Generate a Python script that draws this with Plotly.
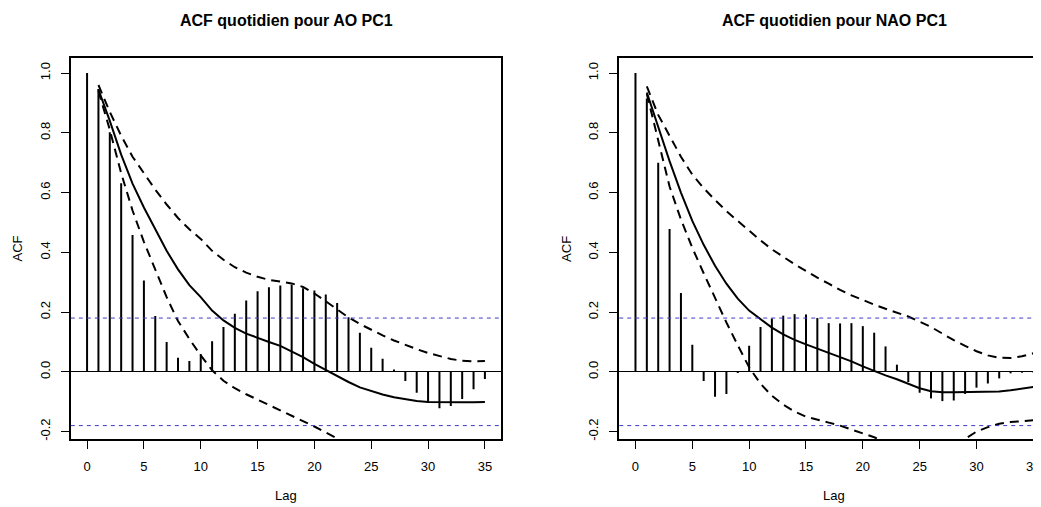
import plotly.graph_objects as go

# ---------------- data ----------------
lags = list(range(0, 36))
line_lags = list(range(1, 36))

acf_ao = [1.0, 0.947, 0.802, 0.631, 0.458, 0.306, 0.187, 0.100, 0.047, 0.036,
          0.060, 0.102, 0.150, 0.194, 0.239, 0.270, 0.283, 0.289, 0.292, 0.280,
          0.272, 0.259, 0.230, 0.183, 0.131, 0.081, 0.044, 0.008, -0.031, -0.070,
          -0.103, -0.122, -0.114, -0.091, -0.058, -0.024]
ao_mean = [0.945, 0.840, 0.727, 0.630, 0.550, 0.475, 0.405, 0.343, 0.290, 0.250,
           0.205, 0.172, 0.147, 0.128, 0.113, 0.100, 0.087, 0.069, 0.049, 0.027,
           0.006, -0.014, -0.034, -0.052, -0.065, -0.076, -0.085, -0.092, -0.098, -0.101,
           -0.102, -0.102, -0.102, -0.102, -0.101]
ao_upper = [0.960, 0.870, 0.790, 0.720, 0.665, 0.610, 0.560, 0.515, 0.477, 0.445,
            0.405, 0.375, 0.350, 0.332, 0.318, 0.308, 0.302, 0.296, 0.284, 0.262,
            0.236, 0.208, 0.182, 0.160, 0.140, 0.122, 0.105, 0.090, 0.076, 0.063,
            0.052, 0.043, 0.037, 0.035, 0.036]
ao_lower_lags = list(range(1, 25))
ao_lower = [0.940, 0.810, 0.665, 0.540, 0.435, 0.340, 0.250, 0.170, 0.110, 0.055,
            0.005, -0.030, -0.055, -0.075, -0.093, -0.110, -0.127, -0.146, -0.164, -0.183,
            -0.203, -0.222, -0.242, -0.262]

acf_nao = [1.0, 0.915, 0.700, 0.478, 0.264, 0.091, -0.031, -0.083, -0.074, -0.004,
           0.087, 0.150, 0.179, 0.188, 0.193, 0.192, 0.180, 0.163, 0.162, 0.163,
           0.153, 0.131, 0.085, 0.024, -0.034, -0.070, -0.089, -0.098, -0.096, -0.074,
           -0.053, -0.039, -0.022, -0.005, -0.003, -0.002]
nao_mean = [0.935, 0.820, 0.705, 0.600, 0.505, 0.425, 0.355, 0.295, 0.245, 0.205,
            0.175, 0.148, 0.125, 0.107, 0.092, 0.078, 0.064, 0.050, 0.035, 0.018,
            0.002, -0.012, -0.025, -0.040, -0.055, -0.065, -0.068, -0.068, -0.068, -0.067,
            -0.067, -0.066, -0.062, -0.057, -0.051]
nao_upper = [0.955, 0.860, 0.790, 0.720, 0.660, 0.615, 0.575, 0.538, 0.505, 0.472,
             0.440, 0.410, 0.385, 0.360, 0.338, 0.315, 0.295, 0.274, 0.256, 0.240,
             0.225, 0.211, 0.198, 0.185, 0.168, 0.150, 0.128, 0.106, 0.087, 0.069,
             0.055, 0.047, 0.046, 0.052, 0.062]
nao_lower = [0.930, 0.770, 0.620, 0.510, 0.415, 0.330, 0.245, 0.165, 0.089, 0.015,
             -0.040, -0.080, -0.110, -0.133, -0.150, -0.161, -0.170, -0.180, -0.193, -0.206,
             -0.219, -0.235, -0.250, -0.260, -0.265, -0.265, -0.258, -0.245, -0.224, -0.200,
             -0.185, -0.174, -0.168, -0.165, -0.162]

ci_bound = 0.18

titles = ["ACF quotidien pour AO PC1", "ACF quotidien pour NAO PC1"]
x_ticks = [0, 5, 10, 15, 20, 25, 30, 35]
y_ticks = [-0.2, 0.0, 0.2, 0.4, 0.6, 0.8, 1.0]
y_ticktext = ["-0.2", "0.0", "0.2", "0.4", "0.6", "0.8", "1.0"]

# ---------------- figure ----------------
WIN_W, WIN_H = 1041, 507
OFF = 8  # default body margin of the html page
W, H = WIN_W - OFF, WIN_H - OFF
FONT = "Liberation Sans, Arial, Helvetica, sans-serif"


def px_x(x):
    return (x - OFF) / W


def px_y(y):
    return 1 - (y - OFF) / H


fig = go.Figure()


def stems(xs, ys):
    sx, sy = [], []
    for x, y in zip(xs, ys):
        sx += [x, x, None]
        sy += [0, y, None]
    return sx, sy


panels = [
    dict(acf=acf_ao, mean=ao_mean, up=ao_upper, lo=ao_lower, lo_lags=ao_lower_lags, xa="x", ya="y"),
    dict(acf=acf_nao, mean=nao_mean, up=nao_upper, lo=nao_lower, lo_lags=line_lags, xa="x2", ya="y2"),
]

for p in panels:
    sx, sy = stems(lags, p["acf"])
    fig.add_trace(go.Scatter(x=sx, y=sy, mode="lines", line=dict(color="black", width=2),
                             xaxis=p["xa"], yaxis=p["ya"], hoverinfo="skip"))
    fig.add_trace(go.Scatter(x=line_lags, y=p["mean"], mode="lines", line=dict(color="black", width=2),
                             xaxis=p["xa"], yaxis=p["ya"], hoverinfo="skip"))
    fig.add_trace(go.Scatter(x=line_lags, y=p["up"], mode="lines",
                             line=dict(color="black", width=2, dash="9px,6px"),
                             xaxis=p["xa"], yaxis=p["ya"], hoverinfo="skip"))
    fig.add_trace(go.Scatter(x=p["lo_lags"], y=p["lo"], mode="lines",
                             line=dict(color="black", width=2, dash="9px,6px"),
                             xaxis=p["xa"], yaxis=p["ya"], hoverinfo="skip"))
    for b in (ci_bound, -ci_bound):
        fig.add_shape(type="line", xref=p["xa"] + " domain", yref=p["ya"],
                      x0=0, x1=1, y0=b, y1=b,
                      line=dict(color="rgb(60,60,200)", width=1, dash="4px,4px"))

# geometry (window pixels)
y_top, y_bot = 58.3, 440.7
dom_y = [px_y(y_bot), px_y(y_top)]
px_per_lag = 11.4
p1_left, p1_zero = 71.0, 87.3
p1_right = 502.7
p2_left, p2_zero = 621.0, 637.3
p_width = p1_right - p1_left

x1_range = [(p1_left - p1_zero) / px_per_lag, (p1_right - p1_zero) / px_per_lag]
x2_range = [(p2_left - p2_zero) / px_per_lag, (WIN_W - p2_zero) / px_per_lag]
y_range = [-0.2247, 1.05]

common_x = dict(tickvals=x_ticks, ticks="outside", ticklen=8, tickwidth=1, tickcolor="black",
                showline=True, linecolor="black", linewidth=2, mirror=True,
                showgrid=False, zeroline=False, tickfont=dict(size=13, color="black", family=FONT),
                ticklabelstandoff=6, ticklabeloverflow="allow")
common_y = dict(tickvals=y_ticks, ticktext=y_ticktext, ticks="outside", ticklen=8, tickwidth=1,
                tickcolor="black", showline=True, linecolor="black", linewidth=2,
                showgrid=False, zeroline=True, zerolinecolor="black", zerolinewidth=1,
                tickangle=-90, range=y_range, domain=dom_y,
                tickfont=dict(size=13, color="black", family=FONT), ticklabelstandoff=6)

fig.update_layout(
    width=W, height=H, margin=dict(l=0, r=0, t=0, b=0),
    paper_bgcolor="white", plot_bgcolor="white", showlegend=False,
    font=dict(family=FONT, color="black"),
    xaxis=dict(common_x, range=x1_range, domain=[px_x(p1_left), px_x(p1_right)], anchor="y"),
    yaxis=dict(common_y, anchor="x", mirror=True),
    xaxis2=dict(common_x, range=x2_range, domain=[px_x(p2_left), 1.0], anchor="y2"),
    yaxis2=dict(common_y, anchor="x2", mirror=False),
)

centers = [p1_left + p_width / 2, p2_left + p_width / 2]
ylab_x = [p1_left - 53, p2_left - 53]
for i in range(2):
    fig.add_annotation(text="<b>" + titles[i] + "</b>", x=px_x(centers[i]), y=px_y(20.7),
                       xref="paper", yref="paper", showarrow=False, xanchor="center", yanchor="middle",
                       font=dict(size=16, family=FONT, color="black"))
    fig.add_annotation(text="Lag", x=px_x(centers[i]), y=px_y(497),
                       xref="paper", yref="paper", showarrow=False, xanchor="center", yanchor="middle",
                       font=dict(size=13, family=FONT, color="black"))
    fig.add_annotation(text="ACF", x=px_x(ylab_x[i]), y=px_y((y_top + y_bot) / 2), textangle=-90,
                       xref="paper", yref="paper", showarrow=False, xanchor="center", yanchor="middle",
                       font=dict(size=13, family=FONT, color="black"))

fig.write_html("out.html")
